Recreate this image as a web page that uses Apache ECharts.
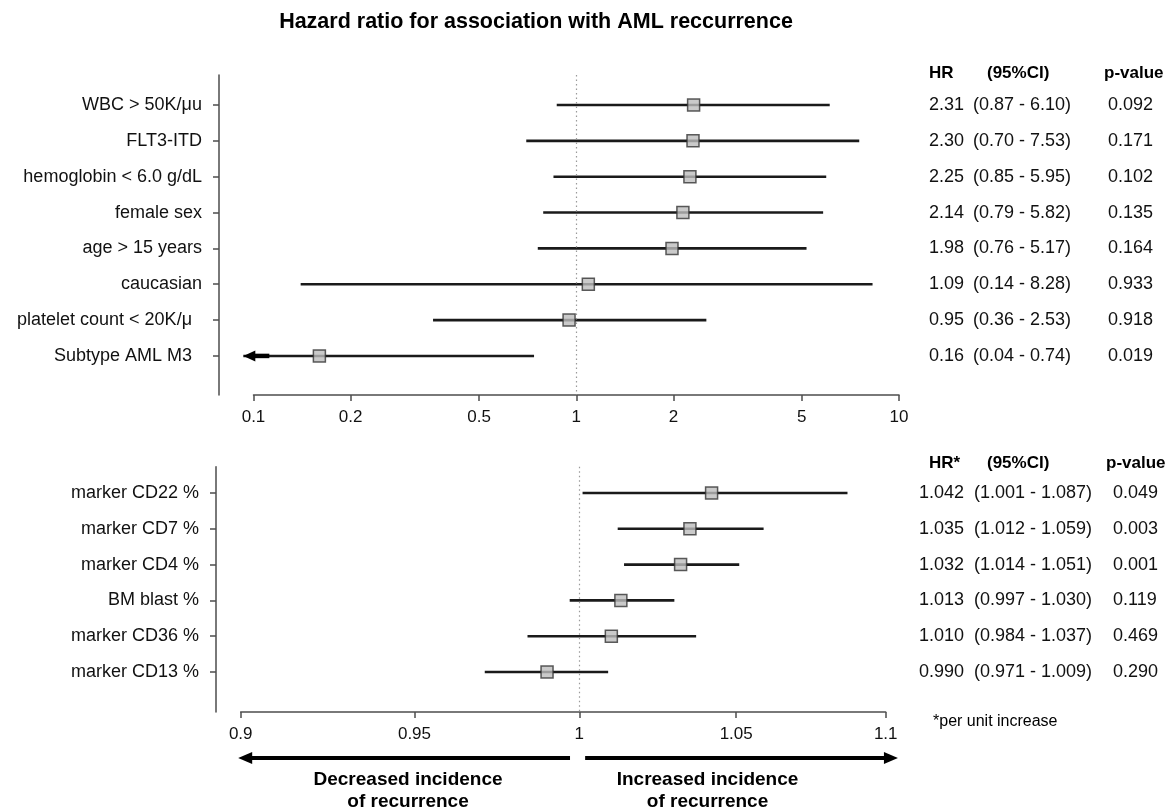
<!DOCTYPE html>
<html>
<head>
<meta charset="utf-8">
<script src="https://cdn.jsdelivr.net/npm/echarts@6/dist/echarts.min.js"></script>
<style>
  html, body { margin: 0; padding: 0; background: #fff; }
  #chart { width: 1173px; height: 812px; }
</style>
</head>
<body>
<div id="chart"></div>
<script>
// ---------------- data ----------------
const topLabels = ["WBC > 50K/μu", "FLT3-ITD", "hemoglobin < 6.0 g/dL", "female sex", "age > 15 years", "caucasian", "platelet count < 20K/μ  ", "Subtype AML M3  "];
const topHR   = [2.31, 2.30, 2.25, 2.14, 1.98, 1.09, 0.95, 0.16];
const topLow  = [0.87, 0.70, 0.85, 0.79, 0.76, 0.14, 0.36, 0.04];
const topHigh = [6.10, 7.53, 5.95, 5.82, 5.17, 8.28, 2.53, 0.74];
const topP    = ["0.092", "0.171", "0.102", "0.135", "0.164", "0.933", "0.918", "0.019"];
const topTicks = [0.1, 0.2, 0.5, 1, 2, 5, 10];
const topFloor = 0.093;   // CI truncation limit (drawn as arrow)

const botLabels = ["marker CD22 %", "marker CD7 %", "marker CD4 %", "BM blast %", "marker CD36 %", "marker CD13 %"];
const botHR   = [1.042, 1.035, 1.032, 1.013, 1.010, 0.990];
const botLow  = [1.001, 1.012, 1.014, 0.997, 0.984, 0.971];
const botHigh = [1.087, 1.059, 1.051, 1.030, 1.037, 1.009];
const botP    = ["0.049", "0.003", "0.001", "0.119", "0.469", "0.290"];
const botTicks = [0.9, 0.95, 1, 1.05, 1.1];

const arrowLeft  = [0.8993, 0.9971];   // "Decreased incidence" arrow (tip, tail)
const arrowRight = [1.0018, 1.1042];   // "Increased incidence" arrow (tail, tip)

// ---------------- helpers ----------------
const FONT = '"Liberation Sans", Arial, Helvetica, sans-serif';
const L = v => Math.log10(v);
const fmtTick = v => String(+Math.pow(10, v).toPrecision(3));
const AX = '#4d4d4d';

const topRows = topLabels.map((_, i) => i);
const botRows = botLabels.map((_, i) => i);
const topHRtxt = topHR.map(v => v.toFixed(2));
const topCItxt = topLow.map((v, i) => '(' + v.toFixed(2) + ' - ' + topHigh[i].toFixed(2) + ')');
const botHRtxt = botHR.map(v => v.toFixed(3));
const botCItxt = botLow.map((v, i) => '(' + v.toFixed(3) + ' - ' + botHigh[i].toFixed(3) + ')');

const TOPY = { min: -0.837, max: 8.09 };
const BOTY = { min: -0.735, max: 6.117 };

function mainY(grid, rng, labels, offset) {
  return {
    type: 'value', gridIndex: grid, inverse: true, min: rng.min, max: rng.max,
    position: 'left', offset: offset,
    splitLine: { show: false },
    axisLine: { show: true, onZero: false, lineStyle: { color: AX, width: 1.5 } },
    axisTick: { show: true, length: 6, customValues: labels.map((_, i) => i), lineStyle: { color: AX, width: 1.5 } },
    axisLabel: { customValues: labels.map((_, i) => i), margin: 17, color: '#111',
                 fontFamily: FONT, fontSize: 18, formatter: v => labels[Math.round(v)] }
  };
}
function textY(grid, rng, texts, offset, align) {
  return {
    type: 'value', gridIndex: grid, inverse: true, min: rng.min, max: rng.max,
    position: 'right', offset: offset,
    splitLine: { show: false }, axisLine: { show: false, onZero: false }, axisTick: { show: false },
    axisLabel: { customValues: texts.map((_, i) => i), margin: 0, align: align, color: '#111',
                 fontFamily: FONT, fontSize: 18, formatter: v => texts[Math.round(v)] }
  };
}
function xLog(grid, ticks, min, max) {
  const vals = ticks.map(L);
  return {
    type: 'value', gridIndex: grid, min: min, max: max, position: 'bottom',
    splitLine: { show: false },
    axisLine: { show: true, onZero: false, lineStyle: { color: AX, width: 1.5 } },
    axisTick: { show: true, length: 6, customValues: vals, lineStyle: { color: AX, width: 1.5 } },
    axisLabel: { customValues: vals, margin: 14, color: '#111', fontFamily: FONT, fontSize: 17, formatter: fmtTick }
  };
}
function ciRender(floorLog) {
  return function (params, api) {
    const lo = api.value(0), hi = api.value(1), row = api.value(2);
    const cut = floorLog !== null && lo < floorLog;
    const p0 = api.coord([cut ? floorLog : lo, row]);
    const p1 = api.coord([hi, row]);
    const ch = [{ type: 'line', shape: { x1: p0[0], y1: p0[1], x2: p1[0], y2: p1[1] },
                  style: { stroke: '#1a1a1a', lineWidth: 2.6 } }];
    if (cut) {
      ch.push({ type: 'polygon', shape: { points: [[p0[0], p0[1]], [p0[0] + 12, p0[1] - 5.5], [p0[0] + 12, p0[1] + 5.5]] },
                style: { fill: '#000' } });
      ch.push({ type: 'line', shape: { x1: p0[0] + 10, y1: p0[1], x2: p0[0] + 26, y2: p0[1] },
                style: { stroke: '#000', lineWidth: 4.5 } });
    }
    return { type: 'group', children: ch };
  };
}
const refLine = {
  silent: true, symbol: 'none', label: { show: false },
  lineStyle: { color: '#9a9a9a', type: [1.5, 3], width: 1.2 },
  data: [{ xAxis: 0 }]
};
const sqStyle = { color: '#bdbdbd', borderColor: '#333', borderWidth: 1.5 };

const chart = echarts.init(document.getElementById('chart'), null, { renderer: 'canvas' });
const option = {
  animation: false,
  backgroundColor: '#fff',
  title: {
    text: 'Hazard ratio for association with AML reccurrence',
    left: 531, top: 6, textAlign: 'center',
    textStyle: { fontFamily: FONT, fontSize: 21.5, fontWeight: 'bold', color: '#000' }
  },
  grid: [
    { left: 253.5, right: 1173 - 899, top: 75, height: 320 },
    { left: 240.7, right: 1173 - 885.7, top: 466.7, height: 245.3 }
  ],
  xAxis: [
    xLog(0, topTicks, -1, 1),
    xLog(1, botTicks, L(0.9), L(1.1))
  ],
  yAxis: [
    mainY(0, TOPY, topLabels, 34.5),
    textY(0, TOPY, topHRtxt, 65, 'right'),
    textY(0, TOPY, topCItxt, 74, 'left'),
    textY(0, TOPY, topP, 209, 'left'),
    mainY(1, BOTY, botLabels, 24.7),
    textY(1, BOTY, botHRtxt, 78.3, 'right'),
    textY(1, BOTY, botCItxt, 88.3, 'left'),
    textY(1, BOTY, botP, 227.3, 'left')
  ],
  series: [
    {
      type: 'custom', xAxisIndex: 0, yAxisIndex: 0, clip: false,
      renderItem: ciRender(L(topFloor)),
      encode: { x: [0, 1], y: 2 },
      data: topRows.map(i => [L(topLow[i]), L(topHigh[i]), i]), z: 3
    },
    {
      type: 'scatter', xAxisIndex: 0, yAxisIndex: 0, symbol: 'rect', symbolSize: 12,
      itemStyle: sqStyle, z: 5,
      data: topRows.map(i => [L(topHR[i]), i]),
      markLine: refLine
    },
    {
      type: 'custom', xAxisIndex: 1, yAxisIndex: 4, clip: false,
      renderItem: ciRender(null),
      encode: { x: [0, 1], y: 2 },
      data: botRows.map(i => [L(botLow[i]), L(botHigh[i]), i]), z: 3
    },
    {
      type: 'scatter', xAxisIndex: 1, yAxisIndex: 4, symbol: 'rect', symbolSize: 12,
      itemStyle: sqStyle, z: 5,
      data: botRows.map(i => [L(botHR[i]), i]),
      markLine: refLine
    }
  ]
};
chart.setOption(option);

// annotations (headers, footnote, direction arrows)
function txt(x, y, s, font, align) {
  return { type: 'text', x: x, y: y, silent: true,
           style: { text: s, font: font, fill: '#000', textAlign: align || 'left', textVerticalAlign: 'middle' } };
}
const BOLD17 = 'bold 17px ' + FONT;
const BOLD19 = 'bold 19px ' + FONT;
const px = v => chart.convertToPixel({ xAxisIndex: 1 }, L(v));
const ay = 758;
const lTip = px(arrowLeft[0]), lTail = px(arrowLeft[1]);
const rTail = px(arrowRight[0]), rTip = px(arrowRight[1]);
const midL = (px(0.9) + px(1)) / 2, midR = (px(1) + px(1.1)) / 2;
chart.setOption({
  graphic: [
    txt(929, 73, 'HR', BOLD17), txt(987, 73, '(95%CI)', BOLD17), txt(1104, 73, 'p-value', BOLD17),
    txt(929, 463, 'HR*', BOLD17), txt(987, 463, '(95%CI)', BOLD17), txt(1106, 463, 'p-value', BOLD17),
    txt(933, 722, '*per unit increase', '16px ' + FONT),
    { type: 'line', silent: true, shape: { x1: lTip + 10, y1: ay, x2: lTail, y2: ay }, style: { stroke: '#000', lineWidth: 4 } },
    { type: 'polygon', silent: true, shape: { points: [[lTip, ay], [lTip + 14, ay - 6], [lTip + 14, ay + 6]] }, style: { fill: '#000' } },
    { type: 'line', silent: true, shape: { x1: rTail, y1: ay, x2: rTip - 10, y2: ay }, style: { stroke: '#000', lineWidth: 4 } },
    { type: 'polygon', silent: true, shape: { points: [[rTip, ay], [rTip - 14, ay - 6], [rTip - 14, ay + 6]] }, style: { fill: '#000' } },
    txt(midL - 2, 780, 'Decreased incidence', BOLD19, 'center'),
    txt(midL - 2, 802, 'of recurrence', BOLD19, 'center'),
    txt(midR - 25, 780, 'Increased incidence', BOLD19, 'center'),
    txt(midR - 25, 802, 'of recurrence', BOLD19, 'center')
  ]
});
</script>
</body>
</html>
